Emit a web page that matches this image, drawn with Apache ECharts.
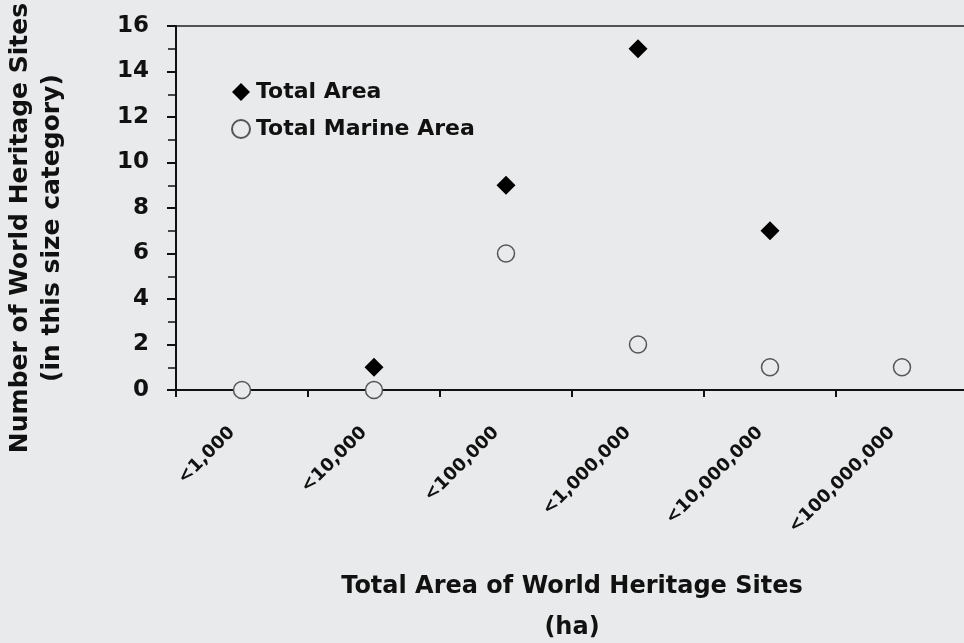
<!DOCTYPE html>
<html>
<head>
<meta charset="utf-8">
<script src="https://cdn.jsdelivr.net/npm/echarts@6/dist/echarts.min.js"></script>
<style>
html,body{margin:0;padding:0;background:#e9eaeb;}
#main{width:964px;height:643px;}
</style>
</head>
<body>
<div id="main"></div>
<script>
// size classes (ha) and number of sites in each
var categories = ['<1,000', '<10,000', '<100,000', '<1,000,000', '<10,000,000', '<100,000,000'];
var totalArea = ['-', 1, 9, 15, 7, '-'];
var totalMarineArea = [0, 0, 6, 2, 1, 1];
var yMin = 0, yMax = 16, yStep = 2;

var font = 'DejaVu Sans';
var ink = '#111';
var bg = '#e9eaeb';

var chart = echarts.init(document.getElementById('main'));
var option = {
    backgroundColor: bg,
    animation: false,
    textStyle: {fontFamily: font},
    grid: {
        left: 176, top: 26, width: 792, height: 364,
        outerBoundsMode: 'none', containLabel: false,
        show: true, borderColor: '#222', borderWidth: 1.5, backgroundColor: 'transparent'
    },
    legend: {
        left: 226, top: 76,
        orient: 'vertical',
        itemGap: 15, itemWidth: 18, itemHeight: 18,
        selectedMode: false,
        textStyle: {fontFamily: font, fontSize: 22, fontWeight: 'bold', color: ink, padding: [0, 0, 0, 1]},
        data: ['Total Area', 'Total Marine Area']
    },
    xAxis: {
        type: 'category',
        data: categories,
        boundaryGap: true,
        axisLine: {lineStyle: {color: ink, width: 2}},
        axisTick: {show: true, length: 7, lineStyle: {color: ink, width: 2}},
        splitLine: {show: false},
        axisLabel: {
            interval: 0, rotate: 45, margin: 30, padding: [0, 14, 0, 0],
            fontFamily: font, fontSize: 18, fontWeight: 'bold', color: ink
        },
        name: 'Total Area of World Heritage Sites\n(ha)',
        nameLocation: 'middle',
        nameGap: 176,
        nameTextStyle: {fontFamily: font, fontSize: 24, fontWeight: 'bold', color: ink, lineHeight: 41}
    },
    yAxis: {
        type: 'value',
        min: yMin, max: yMax, interval: yStep,
        axisLine: {show: true, lineStyle: {color: ink, width: 2}},
        axisTick: {show: true, length: 9, lineStyle: {color: ink, width: 2}},
        minorTick: {show: true, splitNumber: 2, length: 8, lineStyle: {color: ink, width: 1.5}},
        splitLine: {show: false},
        minorSplitLine: {show: false},
        axisLabel: {margin: 27, fontFamily: font, fontSize: 23, fontWeight: 'bold', color: ink},
        name: 'Number of World Heritage Sites\n(in this size category)',
        nameLocation: 'middle',
        nameGap: 108,
        nameTextStyle: {
            fontFamily: font, fontSize: 25, fontWeight: 'bold', color: ink, lineHeight: 32,
            padding: [0, 40, 0, 0]
        }
    },
    series: [
        {
            name: 'Total Area',
            type: 'scatter',
            symbol: 'diamond',
            symbolSize: 19,
            itemStyle: {color: '#000', opacity: 1},
            data: totalArea
        },
        {
            name: 'Total Marine Area',
            type: 'scatter',
            symbol: 'circle',
            symbolSize: 17,
            itemStyle: {color: bg, borderColor: '#555', borderWidth: 1.5, opacity: 1},
            data: totalMarineArea
        }
    ]
};
chart.setOption(option);
</script>
</body>
</html>
